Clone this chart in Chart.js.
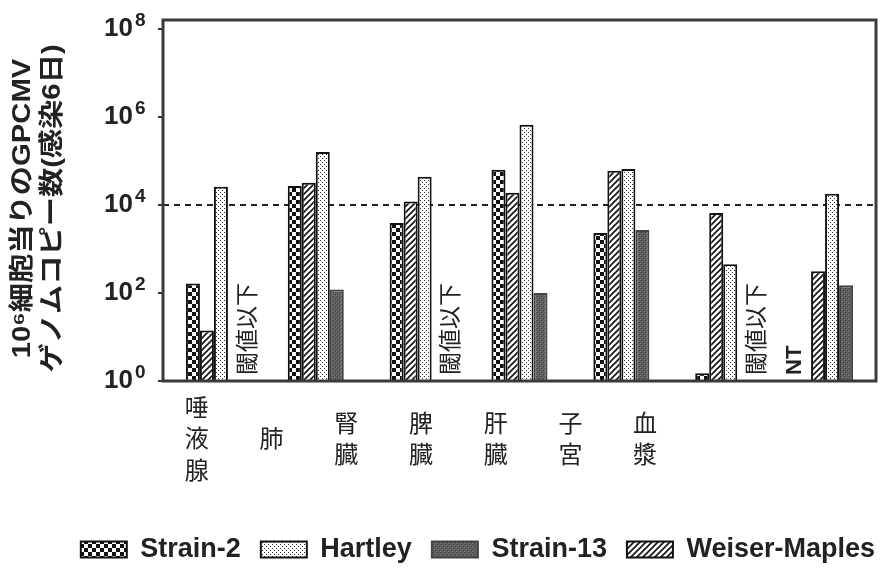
<!DOCTYPE html>
<html lang="ja">
<head>
    <meta charset="UTF-8">
    <title>GPCMV genome copies by organ</title>
    <script src="https://cdn.jsdelivr.net/npm/chart.js"></script>
    <style>
        body { margin: 0; background: #fff; }
        #wrap { width: 880px; height: 575px; }
    </style>
</head>
<body>
<div id="wrap"><canvas id="organChart"></canvas></div>
<script>
    // organs (x categories), each label drawn one character per line
    const organs = ["唾液腺", "肺", "腎臓", "脾臓", "肝臓", "子宮", "血漿"];

    // genome copies per 10^6 cells (null = no bar)
    const strain2      = [165, 27000, 3900, 63000, 2300, 1.5, null];
    const weiserMaples = [14, 32000, 12000, 19000, 60000, 6600, 310];
    const hartley      = [26000, 160000, 44000, 670000, 66000, 450, 18000];
    const strain13     = [null, 120, null, 100, 2700, null, 150];

    // y ticks: base "10" plus exponent drawn raised
    const yTicks = [1, 1e2, 1e4, 1e6, 1e8];
    const yTickExp = ["0", "2", "4", "6", "8"];
    const yTitle = ["10⁶細胞当りのGPCMV", "ゲノムコピー数(感染6日)"];
    const threshold = 1e4;
    const legendOrder = ["Strain-2", "Hartley", "Strain-13", "Weiser-Maples"];

    // text put inside empty bar slots
    const notes = [
        { group: 0, series: 3, text: "閾値以下" },
        { group: 2, series: 3, text: "閾値以下" },
        { group: 5, series: 3, text: "閾値以下" },
        { group: 6, series: 0, text: "NT" }
    ];

    const LATIN = '"Liberation Sans", Arial, "Noto Sans CJK JP", sans-serif';
    const CJK = '"Noto Sans CJK JP", sans-serif';

    // small canvas patterns for the bar fills
    function makePattern(size, draw) {
        const c = document.createElement('canvas');
        c.width = size; c.height = size;
        const g = c.getContext('2d');
        draw(g, size);
        return g.createPattern(c, 'repeat');
    }
    const checker = makePattern(8, (g) => {
        g.fillStyle = '#fff'; g.fillRect(0, 0, 8, 8);
        g.fillStyle = '#111'; g.fillRect(0, 0, 4, 4); g.fillRect(4, 4, 4, 4);
    });
    const dots = makePattern(4, (g) => {
        g.fillStyle = '#fff'; g.fillRect(0, 0, 4, 4);
        g.fillStyle = '#333'; g.fillRect(0, 0, 1, 1); g.fillRect(2, 2, 1, 1);
    });
    const hatch = makePattern(6, (g, s) => {
        g.fillStyle = '#fff'; g.fillRect(0, 0, s, s);
        g.strokeStyle = '#111'; g.lineWidth = 1.6;
        g.beginPath();
        g.moveTo(-1, 1); g.lineTo(1, -1);
        g.moveTo(0, s); g.lineTo(s, 0);
        g.moveTo(s - 1, s + 1); g.lineTo(s + 1, s - 1);
        g.stroke();
    });
    const darkGray = makePattern(4, (g) => {
        g.fillStyle = '#5e5e5e'; g.fillRect(0, 0, 4, 4);
        g.fillStyle = '#3e3e3e'; g.fillRect(1, 0, 1, 1); g.fillRect(3, 2, 1, 1);
        g.fillStyle = '#7a7a7a'; g.fillRect(0, 3, 1, 1); g.fillRect(2, 1, 1, 1);
    });

    // dashed threshold line behind the bars
    const thresholdLine = {
        id: 'thresholdLine',
        beforeDatasetsDraw(chart) {
            const { ctx, chartArea, scales } = chart;
            const y = scales.y.getPixelForValue(threshold);
            ctx.save();
            ctx.strokeStyle = '#222';
            ctx.lineWidth = 2;
            ctx.setLineDash([6, 5]);
            ctx.beginPath();
            ctx.moveTo(chartArea.left, y);
            ctx.lineTo(chartArea.right, y);
            ctx.stroke();
            ctx.restore();
        }
    };

    // vertical notes in the empty bar slots
    const slotNotes = {
        id: 'slotNotes',
        afterDatasetsDraw(chart) {
            const { ctx, chartArea } = chart;
            ctx.save();
            ctx.fillStyle = '#222';
            ctx.textAlign = 'left';
            ctx.textBaseline = 'middle';
            notes.forEach(n => {
                const el = chart.getDatasetMeta(n.series).data[n.group];
                const shift = n.text === 'NT' ? -9 : 11;
                ctx.font = n.text === 'NT' ? 'bold 22px ' + LATIN : '23px ' + CJK;
                ctx.save();
                ctx.translate(el.x + shift, chartArea.bottom - 6);
                ctx.rotate(-Math.PI / 2);
                ctx.fillText(n.text, 0, 0);
                ctx.restore();
            });
            ctx.restore();
        }
    };

    // raised exponents next to the "10" tick labels
    const tickExponents = {
        id: 'tickExponents',
        afterDraw(chart) {
            const { ctx } = chart;
            const s = chart.scales.y;
            ctx.save();
            ctx.fillStyle = '#222';
            ctx.font = 'bold 19px ' + LATIN;
            ctx.textAlign = 'left';
            ctx.textBaseline = 'middle';
            s.ticks.forEach((t, i) => {
                const y = s.getPixelForValue(t.value);
                ctx.fillText(yTickExp[i], s.right - 28, y - 8);
            });
            ctx.restore();
        }
    };

    // two-line y title, drawn a little stretched along its length like the source
    const yTitleText = {
        id: 'yTitleText',
        afterDraw(chart) {
            const { ctx, chartArea: a } = chart;
            const cy = (a.top + a.bottom) / 2 + 8;
            ctx.save();
            ctx.fillStyle = '#222';
            ctx.font = 'bold 25px ' + LATIN;
            ctx.textAlign = 'center';
            ctx.textBaseline = 'middle';
            yTitle.forEach((line, i) => {
                ctx.save();
                ctx.translate(23 + i * 30, cy);
                ctx.rotate(-Math.PI / 2);
                ctx.scale(1.17, 1);
                ctx.fillText(line, 0, 0);
                ctx.restore();
            });
            ctx.restore();
        }
    };

    // box around the plot area
    const frame = {
        id: 'frame',
        afterDraw(chart) {
            const { ctx, chartArea: a } = chart;
            ctx.save();
            ctx.strokeStyle = '#3a3a3a';
            ctx.lineWidth = 3;
            ctx.strokeRect(a.left, a.top, a.right - a.left, a.bottom - a.top);
            ctx.restore();
        }
    };

    // the legend in the source runs right up to the frame's right edge
    const legendShift = {
        id: 'legendShift',
        afterLayout(chart) {
            chart.legend.left += 19;
            chart.legend.right += 19;
        }
    };

    const barStyle = { borderWidth: 2, borderSkipped: 'bottom', xAxisID: 'x' };

    new Chart(document.getElementById('organChart'), {
        type: 'bar',
        data: {
            labels: organs,
            datasets: [
                { label: "Strain-2", data: strain2, backgroundColor: checker, borderColor: '#111', ...barStyle },
                { label: "Weiser-Maples", data: weiserMaples, backgroundColor: hatch, borderColor: '#111', ...barStyle },
                { label: "Hartley", data: hartley, backgroundColor: dots, borderColor: '#111', ...barStyle },
                { label: "Strain-13", data: strain13, backgroundColor: darkGray, borderColor: '#444', ...barStyle }
            ]
        },
        options: {
            responsive: true,
            maintainAspectRatio: false,
            animation: false,
            categoryPercentage: 0.55,
            barPercentage: 1.0,
            layout: { padding: { left: 0, right: 4, top: 20, bottom: 2 } },
            plugins: {
                tooltip: { enabled: false },
                legend: {
                    position: 'bottom',
                    align: 'end',
                    labels: {
                        boxWidth: 46,
                        boxHeight: 16,
                        padding: 20,
                        color: '#222',
                        font: { family: LATIN, size: 27, weight: 'bold' },
                        sort: (a, b) => legendOrder.indexOf(a.text) - legendOrder.indexOf(b.text)
                    }
                }
            },
            scales: {
                x: { display: false, offset: true },
                // organ names sit on their own axis, as in the source figure
                xl: {
                    type: 'linear',
                    position: 'bottom',
                    offset: false,
                    bounds: 'data',
                    min: -0.452,
                    max: 9.09,
                    afterBuildTicks: axis => {
                        axis.ticks = organs.map((_, i) => ({ value: i }));
                        axis.min = -0.452;
                        axis.max = 9.09;
                    },
                    afterFit: axis => { axis.height = 135; axis.paddingLeft = 0; axis.paddingRight = 0; },
                    grid: { display: false, offset: false },
                    border: { display: false },
                    ticks: {
                        autoSkip: false,
                        maxRotation: 0,
                        crossAlign: 'center',
                        padding: 18,
                        color: '#222',
                        font: { family: CJK, size: 24, lineHeight: 1.3 },
                        callback: v => organs[v] ? Array.from(organs[v]) : ''
                    }
                },
                y: {
                    type: 'logarithmic',
                    min: 1,
                    max: 1.6e8,
                    afterBuildTicks: axis => { axis.ticks = yTicks.map(v => ({ value: v })); },
                    afterFit: axis => { axis.width = 163; axis.paddingTop = 0; },
                    grid: { drawOnChartArea: false, drawTicks: true, tickLength: 5, color: '#333', lineWidth: 2 },
                    border: { display: false },
                    ticks: {
                        padding: 25,
                        color: '#222',
                        font: { family: LATIN, size: 26, weight: 'bold' },
                        callback: () => '10'
                    }
                }
            }
        },
        plugins: [thresholdLine, slotNotes, tickExponents, yTitleText, frame, legendShift]
    });
</script>
</body>
</html>
